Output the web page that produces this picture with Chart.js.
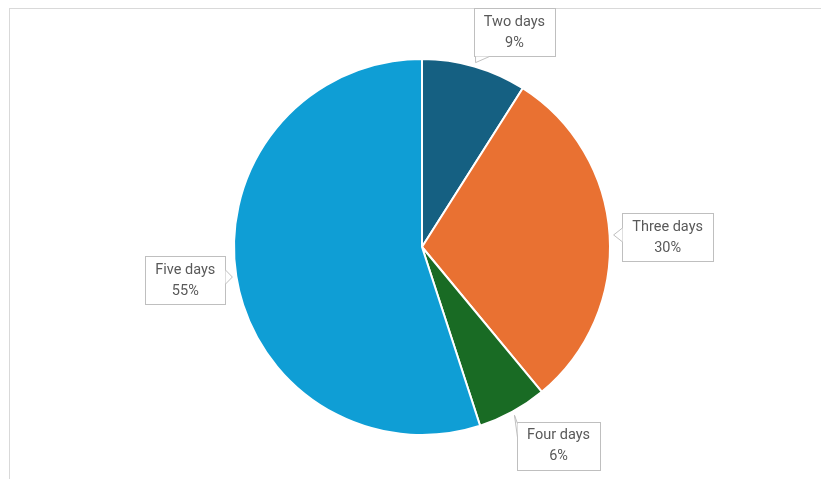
<!DOCTYPE html>
<html>
<head>
<meta charset="utf-8">
<script src="https://cdn.jsdelivr.net/npm/chart.js@4"></script>
<style>
  html, body { margin: 0; padding: 0; background: #fff; }
  body { width: 821px; height: 479px; position: relative; overflow: hidden; }
  .frame {
    position: absolute; left: 9px; top: 8px; width: 830px; height: 490px;
    border-left: 1px solid #d9d9d9; border-top: 1px solid #d9d9d9;
  }
  #wrap { position: absolute; left: 0; top: 0; width: 821px; height: 479px; }
</style>
</head>
<body>
<div class="frame"></div>
<div id="wrap"><canvas id="pie-chart"></canvas></div>
<script>
const categories = ['Two days', 'Three days', 'Four days', 'Five days'];
const shares = [9, 30, 6, 55];
const sliceColors = ['#156082', '#E97132', '#196B24', '#0F9ED5'];

// where each callout box sits relative to the slice edge (px)
const calloutOffsets = [[40, -34], [58, 2], [46, 34], [-51, 4]];

const calloutPlugin = {
    id: 'callouts',
    afterDatasetsDraw(chart) {
        const ctx = chart.ctx;
        const meta = chart.getDatasetMeta(0);
        ctx.save();
        ctx.font = '14.5px Roboto';
        meta.data.forEach((arc, i) => {
            const p = arc.getProps(['x', 'y', 'startAngle', 'endAngle', 'outerRadius'], true);
            const mid = (p.startAngle + p.endAngle) / 2;
            const ex = p.x + Math.cos(mid) * p.outerRadius;
            const ey = p.y + Math.sin(mid) * p.outerRadius;
            const tipX = p.x + Math.cos(mid) * (p.outerRadius + 4);
            const tipY = p.y + Math.sin(mid) * (p.outerRadius + 4);

            const lines = [categories[i], shares[i] + '%'];
            const tw = Math.max(...lines.map(l => ctx.measureText(l).width));
            const w = Math.round(tw + 20);
            const h = 48;
            const cx = ex + calloutOffsets[i][0];
            const cy = ey + calloutOffsets[i][1];
            const x0 = Math.round(cx - w / 2) + 0.5;
            const y0 = Math.round(cy - h / 2) + 0.5;

            // nearest point on box edge to the tip
            const nx = Math.min(Math.max(tipX, x0), x0 + w);
            const ny = Math.min(Math.max(tipY, y0), y0 + h);
            let b1, b2;
            if (nx === x0 || nx === x0 + w) {
                const by = Math.min(Math.max(ny, y0 + 8), y0 + h - 8);
                b1 = [nx, by - 7]; b2 = [nx, by + 7];
            } else {
                const bx = Math.min(Math.max(nx, x0 + 8), x0 + w - 8);
                b1 = [bx - 7, ny]; b2 = [bx + 7, ny];
            }

            ctx.fillStyle = '#ffffff';
            ctx.strokeStyle = '#bfbfbf';
            ctx.lineWidth = 1;
            ctx.fillRect(x0, y0, w, h);
            ctx.strokeRect(x0, y0, w, h);

            ctx.beginPath();
            ctx.moveTo(b1[0], b1[1]);
            ctx.lineTo(tipX, tipY);
            ctx.lineTo(b2[0], b2[1]);
            ctx.closePath();
            ctx.fill();
            ctx.beginPath();
            ctx.moveTo(b1[0], b1[1]);
            ctx.lineTo(tipX, tipY);
            ctx.lineTo(b2[0], b2[1]);
            ctx.stroke();

            ctx.fillStyle = '#595959';
            ctx.textAlign = 'center';
            ctx.textBaseline = 'middle';
            ctx.fillText(lines[0], cx, cy - 10);
            ctx.fillText(lines[1], cx, cy + 11);
        });
        ctx.restore();
    }
};

document.addEventListener('DOMContentLoaded', () => {
    const ctx = document.getElementById('pie-chart').getContext('2d');
    new Chart(ctx, {
        type: 'pie',
        data: {
            labels: categories,
            datasets: [{
                data: shares,
                backgroundColor: sliceColors,
                borderColor: '#ffffff',
                borderWidth: 2
            }]
        },
        options: {
            responsive: true,
            maintainAspectRatio: false,
            animation: false,
            layout: { padding: { top: 58, bottom: 43, left: 233, right: 210 } },
            plugins: {
                legend: { display: false },
                tooltip: { enabled: false }
            }
        },
        plugins: [calloutPlugin]
    });
});
</script>
</body>
</html>
